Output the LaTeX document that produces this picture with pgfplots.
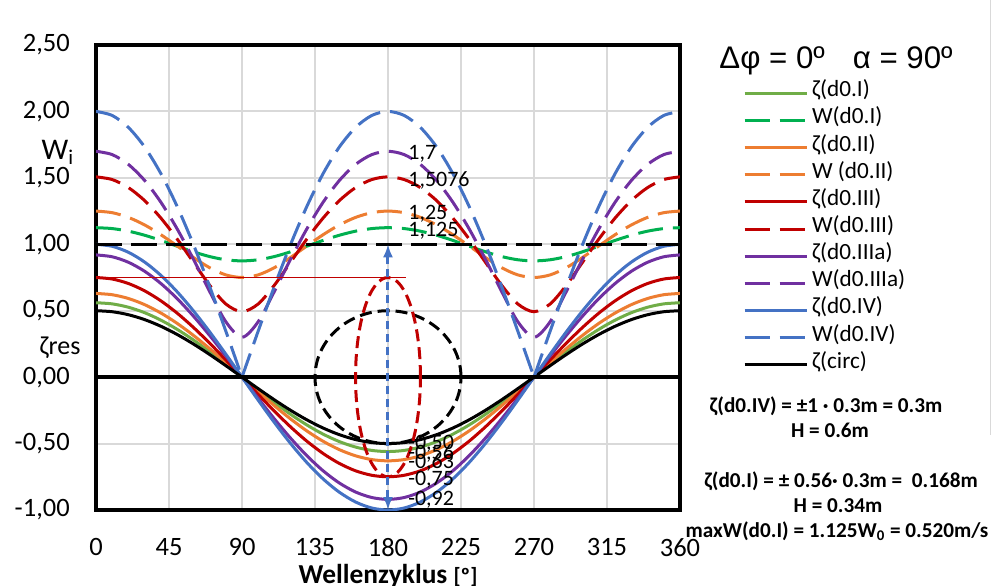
\documentclass[border=0pt]{standalone}
\usepackage{fontspec}
\setmainfont{Carlito}
\newfontfamily\arialf{Liberation Sans}
\usepackage{pgfplots}
\usepackage{pgfplotstable}
\pgfplotsset{compat=1.18}
\usetikzlibrary{arrows.meta}

\definecolor{cgreen}{RGB}{112,173,71}
\definecolor{cgreenW}{RGB}{0,176,80}
\definecolor{corange}{RGB}{237,125,49}
\definecolor{cred}{RGB}{192,0,0}
\definecolor{cpurple}{RGB}{112,48,160}
\definecolor{cblue}{RGB}{68,114,196}
\definecolor{cgrid}{RGB}{217,217,217}

% zeta amplitudes: I 0.56, II 0.63, III 0.75, IIIa 0.92, IV 1.0, circ 0.5
\pgfplotstableread{
t z1 z2 z3 z3a z4 zc
0 0.56 0.63 0.75 0.92 1 0.5
10 0.5515 0.6204 0.7386 0.9060 0.9848 0.4924
20 0.5262 0.5920 0.7048 0.8645 0.9397 0.4698
30 0.4850 0.5456 0.6495 0.7967 0.8660 0.4330
40 0.4290 0.4826 0.5745 0.7048 0.7660 0.3830
50 0.3600 0.4050 0.4821 0.5914 0.6428 0.3214
60 0.28 0.315 0.375 0.46 0.5 0.25
70 0.1915 0.2155 0.2565 0.3147 0.3420 0.1710
80 0.0972 0.1094 0.1302 0.1598 0.1737 0.0868
90 0 0 0 0 0 0
100 -0.0972 -0.1094 -0.1302 -0.1598 -0.1737 -0.0868
110 -0.1915 -0.2155 -0.2565 -0.3147 -0.3420 -0.1710
120 -0.28 -0.315 -0.375 -0.46 -0.5 -0.25
130 -0.3600 -0.4050 -0.4821 -0.5914 -0.6428 -0.3214
140 -0.4290 -0.4826 -0.5745 -0.7048 -0.7660 -0.3830
150 -0.4850 -0.5456 -0.6495 -0.7967 -0.8660 -0.4330
160 -0.5262 -0.5920 -0.7048 -0.8645 -0.9397 -0.4698
170 -0.5515 -0.6204 -0.7386 -0.9060 -0.9848 -0.4924
180 -0.56 -0.63 -0.75 -0.92 -1 -0.5
190 -0.5515 -0.6204 -0.7386 -0.9060 -0.9848 -0.4924
200 -0.5262 -0.5920 -0.7048 -0.8645 -0.9397 -0.4698
210 -0.4850 -0.5456 -0.6495 -0.7967 -0.8660 -0.4330
220 -0.4290 -0.4826 -0.5745 -0.7048 -0.7660 -0.3830
230 -0.3600 -0.4050 -0.4821 -0.5914 -0.6428 -0.3214
240 -0.28 -0.315 -0.375 -0.46 -0.5 -0.25
250 -0.1915 -0.2155 -0.2565 -0.3147 -0.3420 -0.1710
260 -0.0972 -0.1094 -0.1302 -0.1598 -0.1737 -0.0868
270 0 0 0 0 0 0
280 0.0972 0.1094 0.1302 0.1598 0.1737 0.0868
290 0.1915 0.2155 0.2565 0.3147 0.3420 0.1710
300 0.28 0.315 0.375 0.46 0.5 0.25
310 0.3600 0.4050 0.4821 0.5914 0.6428 0.3214
320 0.4290 0.4826 0.5745 0.7048 0.7660 0.3830
330 0.4850 0.5456 0.6495 0.7967 0.8660 0.4330
340 0.5262 0.5920 0.7048 0.8645 0.9397 0.4698
350 0.5515 0.6204 0.7386 0.9060 0.9848 0.4924
360 0.56 0.63 0.75 0.92 1 0.5
}\zetatab

\pgfplotstableread{
t w1 w2 w3 w3a
0 1.125 1.25 1.5076 1.7
10 1.1183 1.2379 1.4872 1.6750
20 1.0987 1.2023 1.4266 1.6008
30 1.0680 1.1456 1.3286 1.4799
40 1.0291 1.0721 1.1975 1.3165
50 0.9860 0.9878 1.0399 1.1166
60 0.9437 0.9014 0.8661 0.8888
70 0.9078 0.8243 0.6928 0.6462
80 0.8836 0.7698 0.5511 0.4177
90 0.875 0.75 0.4924 0.3
100 0.8836 0.7698 0.5511 0.4177
110 0.9078 0.8243 0.6928 0.6462
120 0.9437 0.9014 0.8661 0.8888
130 0.9860 0.9878 1.0399 1.1166
140 1.0291 1.0721 1.1975 1.3165
150 1.0680 1.1456 1.3286 1.4799
160 1.0987 1.2023 1.4266 1.6008
170 1.1183 1.2379 1.4872 1.6750
180 1.125 1.25 1.5076 1.7
190 1.1183 1.2379 1.4872 1.6750
200 1.0987 1.2023 1.4266 1.6008
210 1.0680 1.1456 1.3286 1.4799
220 1.0291 1.0721 1.1975 1.3165
230 0.9860 0.9878 1.0399 1.1166
240 0.9437 0.9014 0.8661 0.8888
250 0.9078 0.8243 0.6928 0.6462
260 0.8836 0.7698 0.5511 0.4177
270 0.875 0.75 0.4924 0.3
280 0.8836 0.7698 0.5511 0.4177
290 0.9078 0.8243 0.6928 0.6462
300 0.9437 0.9014 0.8661 0.8888
310 0.9860 0.9878 1.0399 1.1166
320 1.0291 1.0721 1.1975 1.3165
330 1.0680 1.1456 1.3286 1.4799
340 1.0987 1.2023 1.4266 1.6008
350 1.1183 1.2379 1.4872 1.6750
360 1.125 1.25 1.5076 1.7
}\wtab

\newcommand\tickf{\fontsize{13.25}{15}\selectfont}
\newcommand\dlf{\fontsize{11}{12}\selectfont}
\newcommand\annf{\fontsize{10.6}{12}\selectfont\bfseries}

\begin{document}
\begin{tikzpicture}
\path[use as bounding box] (0,0) rectangle (496pt,292.5pt);
\begin{axis}[
  at={(48pt,37.5pt)}, anchor=south west,
  scale only axis, width=292pt, height=232.5pt,
  xmin=0, xmax=360, ymin=-1, ymax=2.5,
  xtick={0,45,90,135,180,225,270,315,360},
  ytick={-1,-0.5,0,0.5,1,1.5,2,2.5},
  major tick length=0pt,
  grid=major,
  major grid style={draw=cgrid, line width=1pt},
  axis line style={line width=1.65pt},
  /pgf/number format/assume math mode=true,
  tick label style={font=\tickf},
  y tick label style={/pgf/number format/fixed, /pgf/number format/fixed zerofill,
     /pgf/number format/precision=2, /pgf/number format/use comma, xshift=-9.6pt},
  x tick label style={yshift=-10.6pt},
  clip mode=individual,
  legend style={at={(1.108,0.9254)}, anchor=north west, draw=none, fill=none,
     inner sep=0pt, outer sep=0pt, row sep=0pt, column sep=2pt,
     font=\fontsize{11.6}{13.6}\selectfont,
     nodes={inner sep=0pt, text height=8.5pt, text depth=5.08pt, anchor=west}},
  legend cell align=left,
  legend image code/.code={\draw[#1] (0pt,0pt) -- (31pt,0pt);},
  wd/.style={dash pattern=on 12.5pt off 5pt},
  every axis plot/.append style={line width=1.5pt},
]
\addplot[cgreen, smooth] table[x=t,y=z1]{\zetatab}; \addlegendentry{ζ(d0.I)}
\addplot[cgreenW, smooth, wd] table[x=t,y=w1]{\wtab}; \addlegendentry{W(d0.I)}
\addplot[corange, smooth] table[x=t,y=z2]{\zetatab}; \addlegendentry{ζ(d0.II)}
\addplot[corange, smooth, wd] table[x=t,y=w2]{\wtab}; \addlegendentry{W (d0.II)}
\addplot[cred, smooth] table[x=t,y=z3]{\zetatab}; \addlegendentry{ζ(d0.III)}
\addplot[cred, smooth, wd] table[x=t,y=w3]{\wtab}; \addlegendentry{W(d0.III)}
\addplot[cpurple, smooth] table[x=t,y=z3a]{\zetatab}; \addlegendentry{ζ(d0.IIIa)}
\addplot[cpurple, smooth, wd] table[x=t,y=w3a]{\wtab}; \addlegendentry{W(d0.IIIa)}
\addplot[cblue, smooth] table[x=t,y=z4]{\zetatab}; \addlegendentry{ζ(d0.IV)}
\addplot[cblue, smooth, wd] coordinates {(0,2) (10,1.9696) (20,1.8794) (30,1.7321) (40,1.5321) (50,1.2856) (60,1) (70,0.6840) (80,0.3473) (90,0)}; \addlegendentry{W(d0.IV)}
\addplot[black, smooth] table[x=t,y=zc]{\zetatab}; \addlegendentry{ζ(circ)}
\addplot[cblue, smooth, wd, forget plot] coordinates {(90,0) (100,0.3473) (110,0.6840) (120,1) (130,1.2856) (140,1.5321) (150,1.7321) (160,1.8794) (170,1.9696) (180,2) (190,1.9696) (200,1.8794) (210,1.7321) (220,1.5321) (230,1.2856) (240,1) (250,0.6840) (260,0.3473) (270,0)};
\addplot[cblue, smooth, wd, forget plot] coordinates {(270,0) (280,0.3473) (290,0.6840) (300,1) (310,1.2856) (320,1.5321) (330,1.7321) (340,1.8794) (350,1.9696) (360,2)};

\draw[black, line width=1.75pt] (axis cs:0,0) -- (axis cs:360,0);
\draw[black, line width=1.75pt, dash pattern=on 13pt off 4.5pt] (axis cs:0,1) -- (axis cs:360,1);
\draw[cred, line width=0.5pt] (axis cs:0,0.75) -- (axis cs:191,0.75);
\draw[black, line width=1.5pt, dash pattern=on 6pt off 3pt] (axis cs:180,0) ellipse [x radius=45, y radius=0.5];
\draw[cred, line width=1.5pt, dash pattern=on 6pt off 3pt] (axis cs:180,0) ellipse [x radius=20, y radius=0.75];
\draw[cblue, line width=1.5pt, dash pattern=on 4pt off 2.5pt, {Latex[length=6.5pt,width=5pt]}-{Latex[length=6.5pt,width=5pt]}] (axis cs:180,-1) -- (axis cs:180,1);

\begin{scope}[every node/.style={anchor=west, inner sep=0pt, font=\dlf}]
\node at (axis cs:192.3,1.684) {1,7};
\node at (axis cs:192.3,1.48) {1,5076};
\node at (axis cs:192.3,1.23) {1,25};
\node at (axis cs:192.3,1.105) {1,125};
\node at (axis cs:192.3,-0.50) {-0,50};
\node at (axis cs:192.3,-0.575) {-0,56};
\node at (axis cs:192.3,-0.64) {-0,63};
\node at (axis cs:192.3,-0.774) {-0,75};
\node at (axis cs:192.3,-0.925) {-0,92};
\end{scope}
\end{axis}

\begin{scope}[x=0.5pt,y=0.5pt]
\draw[cgrid, line width=0.5pt] (990,585) -- (990,150);
\node[anchor=base, font=\arialf\fontsize{15.6}{18}\selectfont] at (836,516) {Δφ = 0º\hspace{0.9em}α = 90º};
\node[anchor=base, font=\fontsize{15}{18}\selectfont] at (58,425) {W\textsubscript{i}};
\node[font=\fontsize{13}{15}\selectfont] at (60,237) {ζres};
\node[anchor=base] at (388,2) {\fontsize{13.7}{16}\selectfont\bfseries Wellenzyklus {\fontsize{11}{13}\selectfont [º]}};
\node[anchor=base, font=\annf] at (826,173) {ζ(d0.IV) = ±1 · 0.3m = 0.3m};
\node[anchor=base, font=\annf] at (830,148) {H = 0.6m};
\node[anchor=base, font=\annf] at (841,98) {ζ(d0.I) = ± 0.56· 0.3m =\ \ 0.168m};
\node[anchor=base, font=\annf] at (838,73) {H = 0.34m};
\node[anchor=base, font=\annf] at (837,48) {maxW(d0.I) = 1.125W\textsubscript{0} = 0.520m/s};
\end{scope}
\end{tikzpicture}
\end{document}
